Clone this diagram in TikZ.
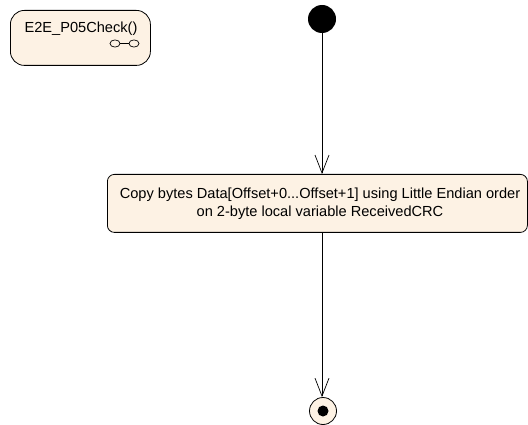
\documentclass[tikz,border=0pt]{standalone}
\usepackage{fontspec}
\setmainfont{Liberation Sans}
\usetikzlibrary{arrows.meta}
\definecolor{cream}{RGB}{253,242,228}
\tikzset{
  statebox/.style={draw=black, fill=cream, rounded corners=9pt, line width=0.8pt},
  flow/.style={draw=black, line width=0.7pt, -{Straight Barb[length=18pt,width=14pt,line width=0.7pt]}},
  txt/.style={font=\fontsize{14.6}{18}\selectfont, align=center, inner sep=0pt}
}
\begin{document}
\begin{tikzpicture}[x=1pt,y=-1pt]
\useasboundingbox (0,0) rectangle (528,425);
% activity frame node
\node[statebox, minimum width=140pt, minimum height=55pt, anchor=north west, rounded corners=14pt] (act) at (10,10) {};
\node[txt, anchor=center] (acttitle) at (81,29) {E2E\_P05Check()};
\draw[line width=0.7pt] (115,43.5) ellipse (5pt and 3.6pt);
\draw[line width=0.7pt] (134,43.5) ellipse (5pt and 3.6pt);
\draw[line width=0.7pt] (120,43.5) -- (129,43.5);
% initial
\node[circle, fill=black, minimum size=28pt, inner sep=0pt] (init) at (322,19) {};
% action
\node[statebox, minimum width=420pt, minimum height=58pt, anchor=north west, rounded corners=7pt] (copy) at (107,174) {};
\node[txt] (copytxt) at (320,204) {Copy bytes Data[Offset+0...Offset+1] using Little Endian order\\on 2-byte local variable ReceivedCRC};
% final
\node[circle, draw=black, fill=cream, line width=0.8pt, minimum size=27pt, inner sep=0pt] (final) at (323,411) {};
\node[circle, fill=black, minimum size=11pt, inner sep=0pt] (finaldot) at (final) {};
% flows
\draw[flow] (init) -- (init |- copy.north);
\draw[flow] (init |- copy.south) -- (init |- final.north);
\end{tikzpicture}
\end{document}
